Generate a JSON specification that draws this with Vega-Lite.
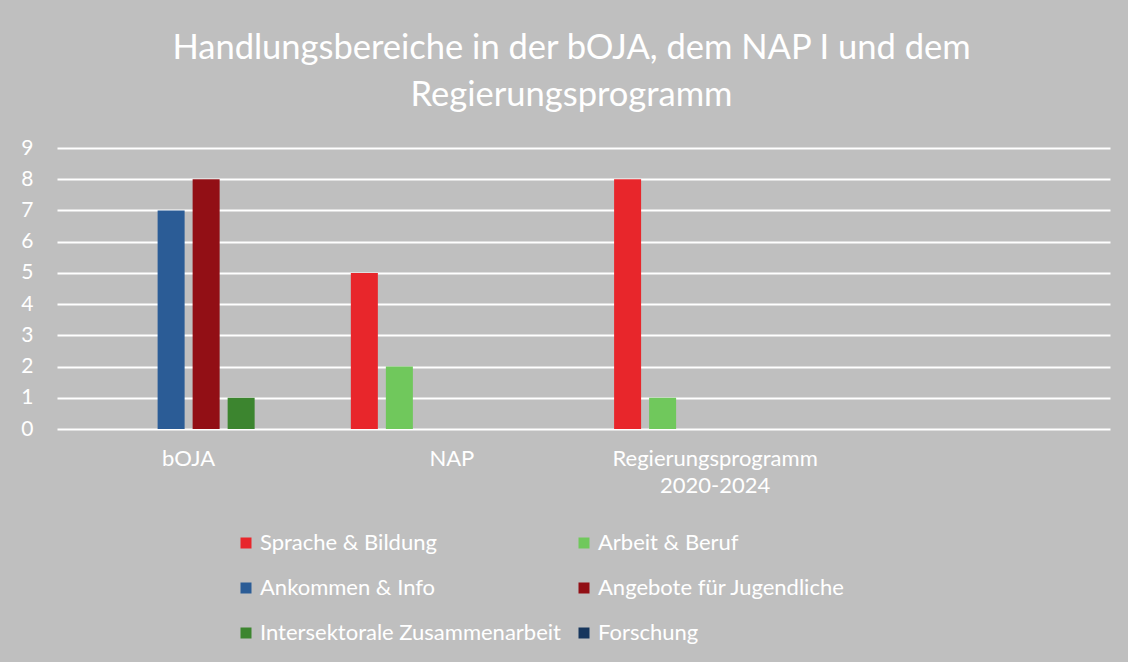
{
  "$schema": "https://vega.github.io/schema/vega-lite/v6.json",
  "width": 1053,
  "height": 281,
  "autosize": {"type": "none"},
  "padding": {"left": 57, "top": 148, "right": 18, "bottom": 233},
  "background": "#BFBFBF",
  "config": {
    "view": {"stroke": null},
    "font": "Lato"
  },
  "title": {
    "text": ["Handlungsbereiche in der bOJA, dem NAP I  und dem", "Regierungsprogramm"],
    "color": "#FFFFFF",
    "fontSize": 34.5,
    "fontWeight": "normal",
    "font": "Lato",
    "lineHeight": 47,
    "anchor": "middle",
    "dx": -12,
    "offset": 24
  },
  "data": {
    "values": [
      {"Bereich": "bOJA", "Handlungsfeld": "Ankommen & Info", "Anzahl": 7},
      {"Bereich": "bOJA", "Handlungsfeld": "Angebote für Jugendliche", "Anzahl": 8},
      {"Bereich": "bOJA", "Handlungsfeld": "Intersektorale Zusammenarbeit", "Anzahl": 1},
      {"Bereich": "NAP", "Handlungsfeld": "Sprache & Bildung", "Anzahl": 5},
      {"Bereich": "NAP", "Handlungsfeld": "Arbeit & Beruf", "Anzahl": 2},
      {"Bereich": "Regierungsprogramm 2020-2024", "Handlungsfeld": "Sprache & Bildung", "Anzahl": 8},
      {"Bereich": "Regierungsprogramm 2020-2024", "Handlungsfeld": "Arbeit & Beruf", "Anzahl": 1}
    ]
  },
  "mark": {"type": "bar"},
  "encoding": {
    "x": {
      "field": "Bereich",
      "type": "nominal",
      "scale": {
        "domain": ["bOJA", "NAP", "Regierungsprogramm 2020-2024", "leer"],
        "paddingInner": 0,
        "paddingOuter": 0
      },
      "axis": {
        "title": null,
        "domain": false,
        "ticks": false,
        "labelAngle": 0,
        "labelColor": "#FFFFFF",
        "labelFontSize": 22,
        "labelPadding": 19,
        "labelLineHeight": 27,
        "labelLimit": 400,
        "labelExpr": "datum.value == 'leer' ? '' : (datum.value == 'Regierungsprogramm 2020-2024' ? ['Regierungsprogramm', '2020-2024'] : datum.value)"
      }
    },
    "xOffset": {
      "field": "Handlungsfeld",
      "type": "nominal",
      "scale": {
        "domain": ["Sprache & Bildung", "Arbeit & Beruf", "Ankommen & Info", "Angebote für Jugendliche", "Intersektorale Zusammenarbeit", "Forschung"],
        "paddingInner": 0.2286,
        "paddingOuter": 0.874
      }
    },
    "y": {
      "field": "Anzahl",
      "type": "quantitative",
      "scale": {"domain": [0, 9], "nice": false},
      "axis": {
        "title": null,
        "domain": false,
        "ticks": false,
        "values": [0, 1, 2, 3, 4, 5, 6, 7, 8, 9],
        "grid": true,
        "gridColor": "#FFFFFF",
        "gridWidth": 2,
        "gridOpacity": 1,
        "labelColor": "#FFFFFF",
        "labelFontSize": 21,
        "labelPadding": 24
      }
    },
    "color": {
      "field": "Handlungsfeld",
      "type": "nominal",
      "scale": {
        "domain": ["Sprache & Bildung", "Arbeit & Beruf", "Ankommen & Info", "Angebote für Jugendliche", "Intersektorale Zusammenarbeit", "Forschung"],
        "range": ["#E8262B", "#70C85C", "#2B5C96", "#920F15", "#3C852F", "#17365D"]
      },
      "legend": {
        "title": null,
        "orient": "none",
        "legendX": 178,
        "legendY": 384,
        "direction": "horizontal",
        "columns": 2,
        "columnPadding": 12,
        "rowPadding": 23,
        "symbolType": "square",
        "symbolSize": 121,
        "symbolStrokeWidth": 0,
        "symbolOpacity": 1,
        "labelOffset": 3,
        "labelColor": "#FFFFFF",
        "labelFontSize": 22,
        "labelLimit": 400
      }
    }
  }
}
